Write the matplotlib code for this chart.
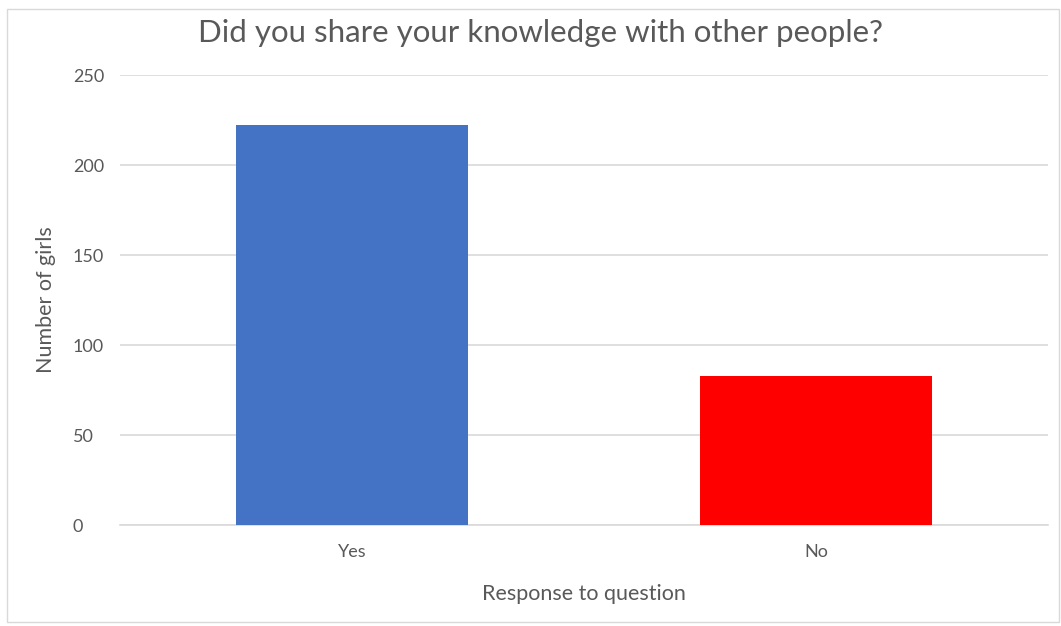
import matplotlib
matplotlib.use("Agg")
import matplotlib.pyplot as plt
from matplotlib.patches import Rectangle

# data
responses = ["Yes", "No"]
girls = [222, 83]
bar_colours = ["#4472C4", "#FF0000"]
yticks = [0, 50, 100, 150, 200, 250]

plt.rcParams['font.family'] = ['Lato', 'DejaVu Sans']
txt = "#595959"

fig = plt.figure(figsize=(10.61, 6.26), dpi=100)
ax = fig.add_axes([120/1061, 1-525/626, 928/1061, 450/626])

# faint chart border like the spreadsheet export
fig.patches.append(Rectangle((7/1061, 4/626), 1052/1061, 613/626,
                             transform=fig.transFigure, fill=False,
                             edgecolor="#D9D9D9", linewidth=1))

ax.bar(range(len(responses)), girls, width=0.5, color=bar_colours, zorder=3)
ax.set_xlim(-0.5, 1.5)
ax.set_ylim(0, 250)
ax.set_yticks(yticks)
ax.set_xticks(range(len(responses)))
ax.set_xticklabels(responses)

ax.grid(axis="y", color="#D9D9D9", linewidth=1.2, zorder=0)
for s in ["top", "right", "left"]:
    ax.spines[s].set_visible(False)
ax.spines["bottom"].set_color("#D9D9D9")
ax.spines["bottom"].set_linewidth(1.2)

ax.tick_params(axis="both", length=0, labelsize=13, labelcolor=txt)
ax.tick_params(axis="y", pad=34)
ax.tick_params(axis="x", pad=14)
for lab in ax.get_yticklabels():
    lab.set_horizontalalignment("left")

ax.set_ylabel("Number of girls", fontsize=15.5, color=txt)
ax.set_xlabel("Response to question", fontsize=15.5, color=txt)
ax.yaxis.set_label_coords((46-120)/928, 0.5)
ax.yaxis.label.set_va("center")
ax.xaxis.set_label_coords(0.5, (525-594)/450)
ax.xaxis.label.set_va("center")

fig.text(541/1061, 1-33/626, "Did you share your knowledge with other people?",
         ha="center", va="center", fontsize=22.5, color=txt)

plt.savefig("out.png", dpi=100)
